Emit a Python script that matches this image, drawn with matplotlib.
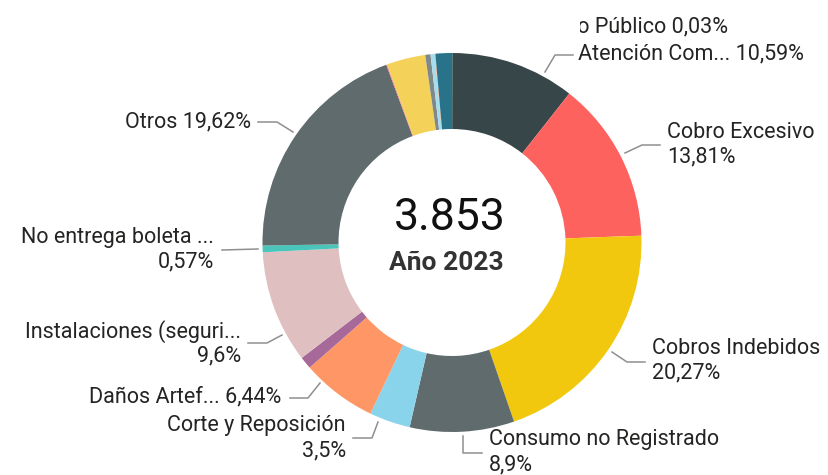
import matplotlib
matplotlib.use("Agg")
import matplotlib.pyplot as plt
from matplotlib.transforms import Bbox

# reclamos 2023 por tipo (porcentaje del total)
categories = ["Alumbrado Público", "Atención Com...", "Cobro Excesivo", "Cobros Indebidos",
              "Consumo no Registrado", "Corte y Reposición", "Daños Artef...", "Otro 1",
              "Instalaciones (seguri...", "No entrega boleta ...", "Otros", "Otro 2",
              "Otro 3", "Otro 4", "Otro 5", "Otro 6", "Otro 7"]
values = [0.03, 10.59, 13.81, 20.27, 8.9, 3.5, 6.44, 1.05, 9.6, 0.57, 19.62, 0.08,
          3.3, 0.45, 0.35, 0.06, 1.4]
colors = ["#01B8AA", "#374649", "#FD625E", "#F2C80F", "#5F6B6D", "#8AD4EB", "#FE9666",
          "#A66999", "#DFBFBF", "#4AC5BB", "#5F6B6D", "#FB8281", "#F4D25A", "#7F898A",
          "#A4DDEE", "#FDAB89", "#28738A"]
total_text = "3.853"
year_text = "Año 2023"

W, H = 829, 475
fig = plt.figure(figsize=(W / 100, H / 100), dpi=100)
ax = fig.add_axes([0, 0, 1, 1])

def py(y):
    # pixel row -> data y
    return H - y

cx, cy, R = 452, 242.5, 189.5
ax.pie(values, colors=colors, startangle=90, counterclock=False, radius=R,
       center=(cx, py(cy)), wedgeprops=dict(width=76, linewidth=0))
ax.set_xlim(0, W)
ax.set_ylim(0, H)
ax.set_aspect("auto")
ax.axis("off")

ax.text(cx - 2, py(218), total_text, ha="center", va="center", fontsize=32,
        family="Roboto", color="#111111")
ax.text(cx - 6, py(263), year_text, ha="center", va="center", fontsize=19,
        family="Roboto", weight="bold", color="#333333")

def pct(v):
    return ("%g" % v).replace(".", ",") + "%"

lab_font = dict(family="Roboto", fontsize=15.5, color="#252423")
lc = "#8f8f8f"

# (category index, lines, x, ha, y of each line, leader points)
labels = [
    (1, [categories[1] + " " + pct(values[1])], 578, "left", [54],
     [(545, 72), (555, 55), (573, 55)]),
    (2, [categories[2], pct(values[2])], 667, "left", [132, 157],
     [(625, 153), (642, 145), (660, 145)]),
    (3, [categories[3], pct(values[3])], 652, "left", [348, 373],
     [(612, 352), (627, 362), (645, 362)]),
    (4, [categories[4], pct(values[4])], 489, "left", [440, 465],
     [(463, 436), (463, 453), (482, 453)]),
    (5, [categories[5], pct(values[5])], 346, "right", [426, 451],
     [(378, 422), (372, 438), (353, 438)]),
    (6, [categories[6] + " " + pct(values[6])], 281, "right", [397],
     [(320, 383), (308, 398), (290, 398)]),
    (8, [categories[8], pct(values[8])], 241, "right", [332, 356],
     [(282, 335), (267, 343), (248, 343)]),
    (9, [categories[9], pct(values[9])], 214, "right", [237, 262],
     [(258, 249), (222, 250)]),
    (10, [categories[10] + " " + pct(values[10])], 251, "right", [122],
     [(293, 132), (277, 122), (258, 122)]),
]

for idx, lines, x, ha, ys, pts in labels:
    for txt, y in zip(lines, ys):
        ax.text(x, py(y), txt, ha=ha, va="center", **lab_font)
    ax.plot([p[0] for p in pts], [py(p[1]) for p in pts], color=lc, lw=1.1)

# label cut off on its left side in the original
t = ax.text(728, py(27), categories[0] + " " + pct(values[0]), ha="right", va="center",
            **lab_font)
t.set_clip_box(Bbox([[580, 0], [W, H]]))
t.set_clip_on(True)

fig.savefig("out.png", dpi=100)
